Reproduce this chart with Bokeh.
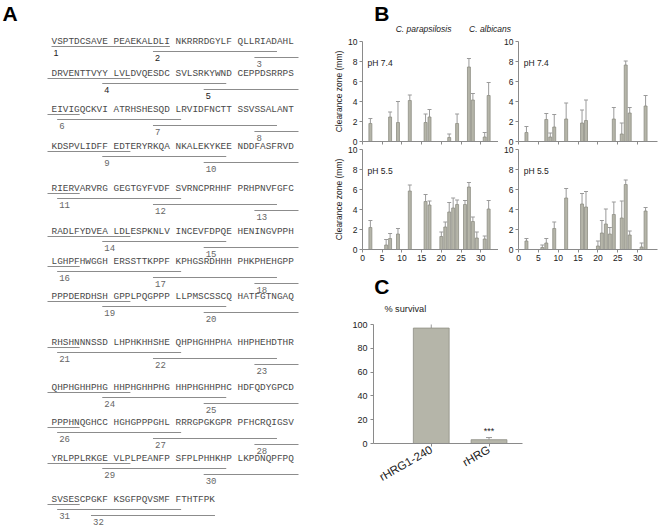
import math
from bokeh.plotting import figure
from bokeh.layouts import row, column
from bokeh.models import Range1d, FixedTicker, ColumnDataSource, Whisker, TeeHead, Label
from bokeh.core.properties import value
from bokeh.embed import file_html
from bokeh.resources import INLINE

# ---------------- data ----------------
seq_rows = [
    "VSPTDCSAVE PEAEKALDLI NKRRRDGYLF QLLRIADAHL",
    "DRVENTTVYY LVLDVQESDC SVLSRKYWND CEPPDSRRPS",
    "EIVIGQCKVI ATRHSHESQD LRVIDFNCTT SSVSSALANT",
    "KDSPVLIDFF EDTERYRKQA NKALEKYKEE NDDFASFRVD",
    "RIERVARVRG GEGTGYFVDF SVRNCPRHHF PRHPNVFGFC",
    "RADLFYDVEA LDLESPKNLV INCEVFDPQE HENINGVPPH",
    "LGHPFHWGGH ERSSTTKPPF KPHGSRDHHH PHKPHEHGPP",
    "PPPDERDHSH GPPLPQGPPP LLPMSCSSCQ HATFGTNGAQ",
    "RHSHNNNSSD LHPHKHHSHE QHPHGHHPHA HHPHEHDTHR",
    "QHPHGHHPHG HHPHGHHPHG HHPHGHHPHC HDFQDYGPCD",
    "PPPHNQGHCC HGHGPPPGHL RRRGPGKGPR PFHCRQIGSV",
    "YRLPPLRKGE VLPLPEANFP SFPLPHHKHP LKPDNQPFPQ",
    "SVSESCPGKF KSGFPQVSMF FTHTFPK",
]
pep_start = [0, 17, 33, 49, 65, 81, 97, 113, 129, 145, 161, 177, 193, 209, 225, 241,
             257, 273, 289, 305, 321, 337, 353, 369, 385, 401, 417, 433, 449, 465, 481, 487]
pep_end = [19, 36, 52, 68, 84, 100, 116, 132, 148, 164, 180, 196, 212, 228, 244, 260,
           276, 292, 308, 324, 340, 356, 372, 388, 404, 420, 436, 452, 468, 484, 500, 506]

para74_pep = [2, 7, 9, 12, 16, 17, 22, 24, 27, 28, 31, 32]
para74_val = [1.8, 2.45, 1.9, 4.1, 1.9, 2.45, 0.4, 1.8, 7.45, 4.15, 0.45, 4.6]
para74_err = [0.5, 0.5, 2.1, 0.55, 0.85, 0.75, 0.35, 0.95, 0.85, 0.65, 0.45, 1.3]

alb74_pep = [2, 7, 8, 9, 12, 16, 17, 24, 26, 27, 28, 32]
alb74_val = [0.9, 2.2, 0.45, 1.45, 2.25, 1.85, 2.1, 2.25, 0.75, 7.65, 2.85, 3.55]
alb74_err = [0.6, 0.6, 0.4, 1.25, 1.6, 1.3, 2.05, 1.15, 1.1, 0.4, 0.55, 1.05]

para55_pep = [2, 6, 7, 9, 12, 16, 17, 20, 21, 22, 23, 24, 26, 27, 28, 29, 31, 32]
para55_val = [2.2, 0.45, 1.1, 1.55, 5.85, 4.8, 4.45, 1.3, 2.25, 3.75, 4.15, 4.5, 4.5, 6.25, 2.8, 1.15, 1.05, 4.05]
para55_err = [0.7, 0.55, 0.5, 0.55, 0.6, 0.7, 0.4, 0.45, 0.5, 0.95, 1.0, 0.45, 0.4, 0.45, 0.45, 0.6, 0.3, 0.85]

alb55_pep = [2, 6, 7, 9, 12, 16, 17, 20, 21, 22, 23, 24, 26, 27, 28, 31, 32]
alb55_val = [0.85, 0.2, 0.65, 2.1, 5.15, 4.55, 4.25, 0.35, 1.65, 2.55, 1.55, 3.5, 3.15, 6.5, 1.45, 0.25, 3.85]
alb55_err = [0.25, 0.25, 0.45, 0.65, 0.95, 1.05, 1.55, 0.5, 1.25, 1.5, 0.65, 1.25, 1.7, 0.45, 0.4, 0.4, 0.35]

c_labels = ["rHRG1-240", "rHRG"]
c_vals = [97, 3.2]
c_errs = [5.5, 1.8]

# ---------------- styles ----------------
SANS = "Liberation Sans"
MONO = "Liberation Mono"
AX = "#8a8a8a"
BAR = "#b5b5a9"
BAR_LINE = "#8e8e84"
ERR = "#9a9a9a"


def blank(w, h, x0, x1, y0, y1):
    p = figure(width=w, height=h, x_range=Range1d(x0, x1), y_range=Range1d(y1, y0),
               x_axis_type=None, y_axis_type=None, min_border=0,
               output_backend="svg", toolbar_location=None)
    p.outline_line_color = None
    return p


# ---------------- panel A ----------------
pA = blank(320, 529, 0, 320, 0, 529)
CW = 5.64
X0 = 51
BW = 62
row_y = [41, 73, 109, 146, 188, 231, 261, 296, 342, 387, 422, 458, 499]
lvl_off = [5, 10, 16, 22]


def xl(c):
    return X0 + (c // 10) * BW + (c % 10) * CW


def xr(c):
    return xl(c) + CW


bx, by, bt = [], [], []
for r, line in enumerate(seq_rows):
    for b, blk in enumerate(line.split(" ")):
        bx.append(xl(10 * b))
        by.append(row_y[r])
        bt.append(blk)
pA.text(x=bx, y=by, text=bt, text_font=value(MONO), text_font_size="9.4px",
        text_color="#4a4a4a", text_baseline="middle", text_align="left")

segs = {r: [] for r in range(len(seq_rows))}
for k, (s, e) in enumerate(zip(pep_start, pep_end), start=1):
    rs, cs = divmod(s, 40)
    re_, ce = divmod(e, 40)
    if rs == re_:
        segs[rs].append((cs, xl(cs), xr(ce), k))
    else:
        segs[rs].append((cs, xl(cs), 298, k))
        segs[re_].append((-1, 47, xr(ce), None))

sx0, sx1, sy = [], [], []
lab_s = dict(x=[], y=[], t=[])
lab_m = dict(x=[], y=[], t=[])
for r, lst in segs.items():
    for lvl, (c, a, b, k) in enumerate(sorted(lst, key=lambda t: t[0])):
        yy = row_y[r] + lvl_off[lvl]
        sx0.append(a)
        sx1.append(b)
        sy.append(yy)
        if k is not None:
            d = lab_s if k in (1, 2, 4, 5) else lab_m
            d["x"].append(a + 2)
            d["y"].append(yy + 6)
            d["t"].append(str(k))
pA.segment(x0=sx0, y0=sy, x1=sx1, y1=sy, line_color="#8c8c8c", line_width=1)
pA.text(x=lab_s["x"], y=lab_s["y"], text=lab_s["t"], text_font=value(SANS), text_font_size="9px",
        text_color="#222222", text_baseline="middle")
pA.text(x=lab_m["x"], y=lab_m["y"], text=lab_m["t"], text_font=value(MONO), text_font_size="9px",
        text_color="#666666", text_baseline="middle")
pA.text(x=[2], y=[13], text=["A"], text_font=value(SANS), text_font_style="bold",
        text_font_size="21px", text_color="#000000", text_baseline="middle")


# ---------------- panel B ----------------
def style_axis(ax, size="8.5px"):
    ax.axis_line_color = AX
    ax.major_tick_line_color = AX
    ax.major_tick_in = 0
    ax.major_tick_out = 3
    ax.minor_tick_line_color = None
    ax.major_label_text_font = SANS
    ax.major_label_text_font_size = size
    ax.major_label_text_color = "#222222"
    ax.major_label_standoff = 2


def bchart(w, h, mbl, mbr, mbt, mbb, x_end, pep, val, err, ph, xlabels, ylabel):
    p = figure(width=w, height=h, x_range=Range1d(0, x_end), y_range=Range1d(0, 10),
               output_backend="svg", toolbar_location=None,
               min_border_left=mbl, min_border_right=mbr, min_border_top=mbt, min_border_bottom=mbb)
    p.outline_line_color = None
    p.xgrid.visible = False
    p.ygrid.visible = False
    p.xaxis.ticker = FixedTicker(ticks=list(range(0, 31, 5)))
    p.yaxis.ticker = FixedTicker(ticks=list(range(0, 11, 2)))
    style_axis(p.xaxis[0])
    style_axis(p.yaxis[0])
    if not xlabels:
        p.xaxis.major_label_text_color = None
        p.xaxis.major_label_standoff = 0
    if ylabel:
        p.yaxis.axis_label = ylabel
        p.yaxis.axis_label_text_font = SANS
        p.yaxis.axis_label_text_font_style = "normal"
        p.yaxis.axis_label_text_font_size = "8.5px"
        p.yaxis.axis_label_text_color = "#222222"
        p.yaxis.axis_label_standoff = 1
    src = ColumnDataSource(dict(x=pep, top=val, hi=[v + e for v, e in zip(val, err)]))
    p.vbar(x="x", top="top", width=0.75, source=src, fill_color=BAR,
           line_color=BAR_LINE, line_width=0.8)
    p.add_layout(Whisker(source=src, base="x", lower="top", upper="hi", line_color=ERR,
                         line_width=1, upper_head=TeeHead(size=4, line_color=ERR, line_width=1),
                         lower_head=None))
    p.add_layout(Label(x=1.3, y=7.9, text=ph, text_font=SANS, text_font_size="8.5px",
                       text_color="#222222", text_baseline="middle", text_align="left"))
    return p


b_tl = bchart(178, 110, 42, 0, 6, 4, 34.5, para74_pep, para74_val, para74_err, "pH 7.4", False,
              "Clearance zone (mm)")
b_bl = bchart(178, 121, 42, 0, 4, 17, 34.5, para55_pep, para55_val, para55_err, "pH 5.5", True,
              "Clearance zone (mm)")
b_tr = bchart(164, 110, 20, 5, 6, 4, 35, alb74_pep, alb74_val, alb74_err, "pH 7.4", False, None)
b_br = bchart(164, 121, 20, 5, 4, 17, 35, alb55_pep, alb55_val, alb55_err, "pH 5.5", True, None)

bhead = blank(342, 35, 320, 662, 0, 35)
bhead.text(x=[322], y=[13], text=["B"], text_font=value(SANS), text_font_style="bold",
           text_font_size="21px", text_color="#000000", text_baseline="middle")
bhead.text(x=[435, 587.5], y=[28, 28], text=["C. parapsilosis", "C. albicans"],
           text_font=value(SANS), text_font_style="italic", text_font_size="8.5px",
           text_color="#222222", text_baseline="middle", text_align="center")

# ---------------- panel C ----------------
chead = blank(342, 52, 320, 662, 266, 318)
chead.text(x=[322], y=[286], text=["C"], text_font=value(SANS), text_font_style="bold",
           text_font_size="21px", text_color="#000000", text_baseline="middle")
chead.text(x=[345], y=[308], text=["% survival"], text_font=value(SANS), text_font_size="9.2px",
           text_color="#222222", text_baseline="middle")

c_x = [i + 1 for i in range(len(c_labels))]
pc = figure(width=342, height=211, x_range=Range1d(0, 2.58), y_range=Range1d(0, 100),
            output_backend="svg", toolbar_location=None,
            min_border_left=53, min_border_right=140, min_border_top=6, min_border_bottom=86)
pc.outline_line_color = None
pc.xgrid.visible = False
pc.ygrid.visible = False
style_axis(pc.xaxis[0], "11.5px")
style_axis(pc.yaxis[0], "9px")
pc.yaxis.major_label_standoff = 3
pc.yaxis.ticker = FixedTicker(ticks=[0, 20, 40, 60, 80, 100])
pc.xaxis.ticker = FixedTicker(ticks=c_x)
pc.xaxis.major_label_overrides = {x: lab for x, lab in zip(c_x, c_labels)}
pc.xaxis.major_label_orientation = math.radians(30)
csrc = ColumnDataSource(dict(x=c_x, top=c_vals, hi=[v + e for v, e in zip(c_vals, c_errs)]))
pc.vbar(x="x", top="top", width=0.62, source=csrc, fill_color=BAR, line_color=BAR_LINE, line_width=0.8)
pc.add_layout(Whisker(source=csrc, base="x", lower="top", upper="hi", line_color=ERR, line_width=1,
                      upper_head=TeeHead(size=6, line_color=ERR, line_width=1), lower_head=None))
pc.add_layout(Label(x=c_x[1], y=10.5, text="***", text_font=SANS, text_font_size="9px",
                    text_color="#222222", text_baseline="middle", text_align="center"))

right = column(bhead, row(column(b_tl, b_bl), column(b_tr, b_br)), chead, pc)
layout = row(pA, right)

open("out.html", "w").write(file_html(layout, INLINE))
